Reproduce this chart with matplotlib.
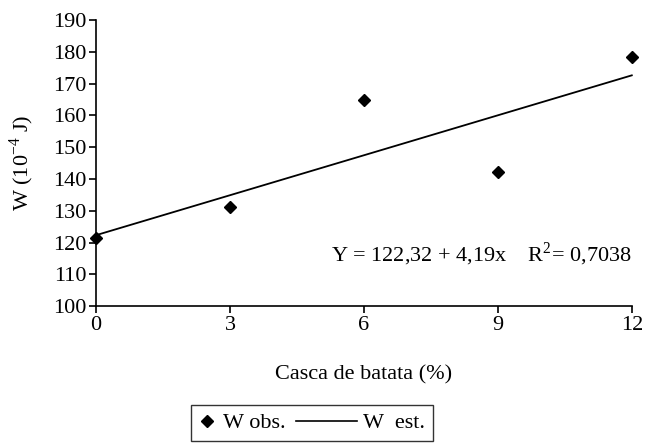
import matplotlib
matplotlib.use("Agg")
import matplotlib.pyplot as plt
from matplotlib.legend_handler import HandlerBase
from matplotlib.lines import Line2D
import numpy as np

plt.rcParams['font.family'] = ['Liberation Serif', 'DejaVu Serif']
plt.rcParams['mathtext.fontset'] = 'custom'
plt.rcParams['mathtext.rm'] = 'Liberation Serif'

x_obs = [0, 3, 6, 9, 12]
w_obs = [121.4, 131.2, 164.8, 142.2, 178.5]
intercept = 122.32
slope = 4.19
x_ticks = [0, 3, 6, 9, 12]
y_ticks = [100, 110, 120, 130, 140, 150, 160, 170, 180, 190]

FS = 16
COLSP = 2.4

fig = plt.figure(figsize=(6.46, 4.45), dpi=100)
ax = fig.add_axes([0.1486, 0.312, 0.978 - 0.1486, 0.955 - 0.312])

xl = np.array([0, 12])
line_h, = ax.plot(xl, intercept + slope * xl, color='black', lw=1.3, zorder=2)
obs_h, = ax.plot(x_obs, w_obs, ls='none', marker='D', ms=6.5, color='black', zorder=3)

ax.set_xlim(0, 12)
ax.set_ylim(100, 190)
ax.set_xticks(x_ticks)
ax.set_yticks(y_ticks)
ax.spines['top'].set_visible(False)
ax.spines['right'].set_visible(False)
for s in ['left', 'bottom']:
    ax.spines[s].set_linewidth(1.2)
ax.tick_params(direction='out', length=5, width=1.2, labelsize=FS, pad=2)
for sp in ax.spines.values():
    sp.set_clip_on(False)
for ln in ax.get_lines():
    ln.set_clip_on(False)

ax.set_xlabel('Casca de batata (%)', fontsize=FS, labelpad=22)
ax.set_ylabel('W (10$^{-4}$ J)', fontsize=FS, labelpad=12)

ax.text(12, 116.3, 'Y = 122,32 + 4,19x    R$^2$= 0,7038', ha='right', va='center', fontsize=FS)


class MarkerHandler(HandlerBase):
    def create_artists(self, legend, orig_handle, xdescent, ydescent, width, height, fontsize, trans):
        m = Line2D([width / 2 - xdescent], [height / 2 - ydescent], ls='none', marker='D',
                   ms=6, color='black', transform=trans)
        return [m]


class LongLineHandler(HandlerBase):
    def create_artists(self, legend, orig_handle, xdescent, ydescent, width, height, fontsize, trans):
        y = height / 2 - ydescent
        start = -xdescent - (COLSP * fontsize - 0.45 * fontsize)
        l = Line2D([start, width - xdescent], [y, y], color='black', lw=1.2, transform=trans)
        return [l]


leg = fig.legend([obs_h, line_h], ['W obs.', 'W  est.'], loc='center',
                 bbox_to_anchor=(312 / 646, 1 - 423 / 445),
                 ncol=2, frameon=True, fancybox=False, edgecolor='black', fontsize=FS,
                 handlelength=0.8, handletextpad=0.3, columnspacing=COLSP, borderpad=0.35,
                 handler_map={obs_h: MarkerHandler(), line_h: LongLineHandler()})
leg.get_frame().set_linewidth(1.0)

fig.savefig('out.png', dpi=100)
